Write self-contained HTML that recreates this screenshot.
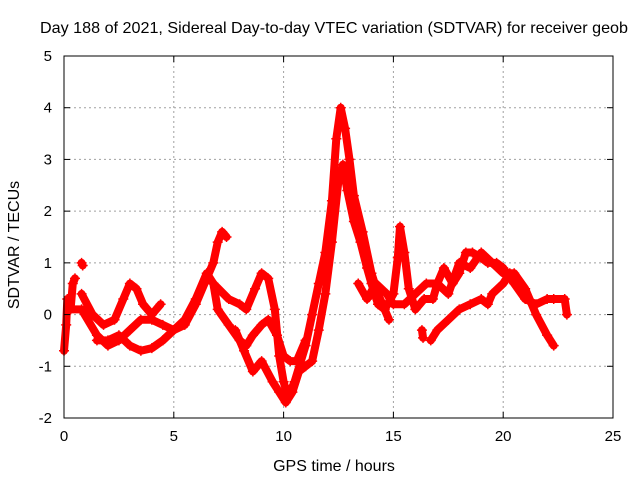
<!DOCTYPE html>
<html><head><meta charset="utf-8"><style>
body{margin:0;background:#fff}
svg{display:block;font-family:"Liberation Sans",sans-serif}
</style></head><body>
<svg id="chart" width="640" height="480" viewBox="0 0 640 480">
<rect width="640" height="480" fill="#fff"/>
<g id="grid"></g>
<g id="series"></g>
<rect x="64" y="56" width="549" height="362" fill="none" stroke="#000" stroke-width="1"/>
<g id="axes"></g>
<text x="334" y="33" text-anchor="middle" font-size="16" textLength="588" lengthAdjust="spacingAndGlyphs">Day 188 of 2021, Sidereal Day-to-day VTEC variation (SDTVAR) for receiver geob</text>
<text x="334" y="471" text-anchor="middle" font-size="16">GPS time / hours</text>
<text transform="translate(19,245) rotate(-90)" text-anchor="middle" font-size="16">SDTVAR / TECUs</text>
</svg>
<script>
const xTicks=[0,5,10,15,20,25];
const yTicks=[-2,-1,0,1,2,3,4,5];
const track1=[[0.2,0.1],[0.8,0.1],[1.5,-0.4],[2,-0.6],[2.5,-0.5],[3,-0.3],[3.5,-0.1],[4,-0.1],[4.5,-0.2],[5,-0.3],[5.5,-0.2],[6,0.2],[6.5,0.7],[6.8,1.0],[7,1.4],[7.2,1.6],[7.4,1.5]];
const track2=[[0.8,0.4],[1.3,0],[1.8,-0.2],[2.3,-0.1],[2.7,0.3],[3,0.6],[3.3,0.5],[3.6,0.2],[4,0],[4.4,0.2]];
const track3=[[1.5,-0.5],[2,-0.5],[2.5,-0.4],[3,-0.6],[3.5,-0.7],[4,-0.65],[4.5,-0.5],[5,-0.3],[5.5,-0.1],[6,0.3],[6.5,0.8],[6.8,0.6],[7,0.1],[7.5,-0.2],[8,-0.5],[8.3,-0.6],[8.6,-0.4],[9,-0.2],[9.3,-0.1],[9.7,-0.4],[10,-0.8],[10.3,-0.9],[10.6,-0.9],[11,-0.5]];
const track4=[[6.8,0.6],[7.5,0.3],[8,0.2],[8.3,0.1],[8.7,0.5],[9,0.8],[9.3,0.7],[9.6,0.1],[9.8,-0.8],[10,-1.3],[10.2,-1.6],[10.5,-1.3],[11,-0.6],[11.3,0],[11.6,0.6],[11.9,1.2],[12.2,2.2],[12.4,3.4],[12.6,4.0],[12.8,3.6],[13,3.0],[13.2,2.3],[13.6,1.6],[14,0.8],[14.3,0.4],[14.6,0.1],[14.8,-0.1]];
const track5=[[7.8,-0.3],[8.2,-0.7],[8.6,-1.1],[9,-0.9],[9.5,-1.3],[9.8,-1.5],[10.1,-1.7],[10.4,-1.5],[10.7,-1.1],[11,-1.0],[11.3,-0.9],[11.6,-0.3],[11.9,0.4],[12.2,1.4],[12.5,2.6],[12.7,2.9],[12.9,2.4],[13.2,1.8],[13.5,1.4],[13.8,0.9],[14,0.6],[14.3,0.2],[14.6,0.1],[15,0.4],[15.2,1.1],[15.3,1.7],[15.5,1.2],[15.7,0.5],[16,0.1],[16.4,0.3],[16.8,0.3],[17,0.6],[17.3,0.9],[17.7,0.6],[18,0.8],[18.3,1.2],[18.6,1.2],[19,1.1],[19.3,1.0],[19.7,1.0],[20,0.9],[20.5,0.6],[21,0.3],[21.5,0.2],[22,0.3],[22.3,0.3],[22.8,0.3],[22.9,0]];
const track6=[[13.4,0.6],[13.8,0.3],[14.2,0.6],[14.7,0.4],[15,0.2],[15.5,0.2],[16,0.4],[16.5,0.6],[17,0.6],[17.5,0.4],[18,1.0],[18.5,0.9],[19,1.2],[19.5,1.0],[20,0.8],[20.5,0.8],[21,0.5],[21.5,0],[22,-0.4],[22.3,-0.6]];
const track7=[[16.7,-0.5],[17,-0.3],[17.5,-0.1],[18,0.1],[18.5,0.2],[19,0.3],[19.3,0.2],[19.5,0.4],[20,0.6],[20.3,0.8],[20.6,0.6]];
const track8=[[0,-0.7],[0.1,-0.2],[0.15,0.3],[0.3,0.1],[0.4,0.6],[0.5,0.7]];
const track9=[[0.8,1.0],[0.85,0.95]];
const track10=[[16.3,-0.3],[16.35,-0.45]];
const tracks=[track1,track2,track3,track4,track5,track6,track7,track8,track9,track10];
const X0=64,X1=613,Y0=418,Y1=56;
const xs=v=>X0+(v-0)/(25-0)*(X1-X0);
const ys=v=>Y0-(v+2)/(5+2)*(Y0-Y1);
const NS="http://www.w3.org/2000/svg";
const grid=document.getElementById('grid'),axes=document.getElementById('axes'),ser=document.getElementById('series');
function mk(tag,attrs,parent){const e=document.createElementNS(NS,tag);for(const k in attrs)e.setAttribute(k,attrs[k]);parent.appendChild(e);return e;}
xTicks.forEach(t=>{const x=xs(t);
 if(t>0&&t<25){const g=mk('line',{x1:x,x2:x,y1:Y1,y2:Y0,stroke:'#a0a0a0','stroke-dasharray':'2,3'},grid);
 
 }
 mk('line',{x1:x,x2:x,y1:Y0,y2:Y0-6,stroke:'#000'},axes);mk('line',{x1:x,x2:x,y1:Y1,y2:Y1+6,stroke:'#000'},axes);
 const l=mk('text',{x:x,y:Y0+23,'text-anchor':'middle','font-size':15},axes);l.textContent=t;
 
 });
yTicks.forEach(t=>{const y=ys(t);
 if(t>-2&&t<5){const g=mk('line',{x1:X0,x2:X1,y1:y,y2:y,stroke:'#a0a0a0','stroke-dasharray':'2,3'},grid);
 
 }
 mk('line',{x1:X0,x2:X0+6,y1:y,y2:y,stroke:'#000'},axes);mk('line',{x1:X1,x2:X1-6,y1:y,y2:y,stroke:'#000'},axes);
 const l=mk('text',{x:X0-12,y:y+5,'text-anchor':'end','font-size':15},axes);l.textContent=t;
 
 });
tracks.forEach((tr,i)=>{
 const p=mk('polyline',{points:tr.map(d=>xs(d[0])+','+ys(d[1])).join(' '),fill:'none',stroke:'#ff0000','stroke-width':8,'stroke-linejoin':'round','stroke-linecap':'round'},ser);
 
 
 tr.forEach(d=>{const x=xs(d[0]),y=ys(d[1]);
  const m=mk('path',{d:`M${x-5},${y}H${x+5}M${x},${y-5}V${y+5}`,stroke:'#ff0000','stroke-width':1.5},ser);
  
  });
});
</script>
</body></html>
